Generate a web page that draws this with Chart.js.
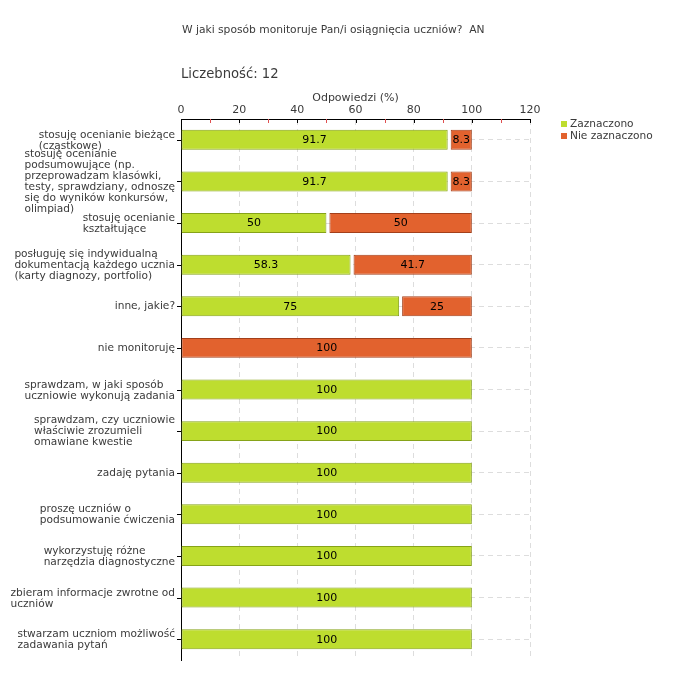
<!DOCTYPE html>
<html><head><meta charset="utf-8">
<script src="https://cdn.jsdelivr.net/npm/chart.js@4/dist/chart.umd.min.js"></script>
<style>html,body{margin:0;padding:0;background:#fff}</style>
</head><body>
<canvas id="c" width="680" height="680"></canvas>
<script>
const titleText = "W jaki sposób monitoruje Pan/i osiągnięcia uczniów?  AN";
const countText = "Liczebność: 12";
const axisTitle = "Odpowiedzi (%)";
const seriesNames = ["Zaznaczono", "Nie zaznaczono"];
const categories = [
  ["stosuję ocenianie bieżące", "(cząstkowe)"],
  ["stosuję ocenianie", "podsumowujące (np.", "przeprowadzam klasówki,", "testy, sprawdziany, odnoszę", "się do wyników konkursów,", "olimpiad)"],
  ["stosuję ocenianie", "kształtujące"],
  ["posługuję się indywidualną", "dokumentacją każdego ucznia", "(karty diagnozy, portfolio)"],
  ["inne, jakie?"],
  ["nie monitoruję"],
  ["sprawdzam, w jaki sposób", "uczniowie wykonują zadania"],
  ["sprawdzam, czy uczniowie", "właściwie zrozumieli", "omawiane kwestie"],
  ["zadaję pytania"],
  ["proszę uczniów o", "podsumowanie ćwiczenia"],
  ["wykorzystuję różne", "narzędzia diagnostyczne"],
  ["zbieram informacje zwrotne od", "uczniów"],
  ["stwarzam uczniom możliwość", "zadawania pytań"]
];
const zaznaczono = [91.7, 91.7, 50, 58.3, 75, 0, 100, 100, 100, 100, 100, 100, 100];
const nieZaznaczono = [8.3, 8.3, 50, 41.7, 25, 100, 0, 0, 0, 0, 0, 0, 0];
const xMin = 0, xMax = 120, xStep = 20, xMinorStep = 10;

const FONT = "'DejaVu Sans', Verdana, sans-serif";
const TXT = "#3a3a3a";
const GREEN = "#bedd2f", GREEN_B = "#86a318";
const ORANGE = "#e2622e", ORANGE_B = "#a33f1a";

const gapPlugin = {
  id: 'gap',
  beforeDatasetDraw(chart, args) {
    if (args.index !== 1) return;
    const left = chart.chartArea.left;
    args.meta.data.forEach(el => {
      el._origBase = el.base;
      if (el.base > left + 2 && el.x - el.base > 4) el.base = el.base + 3;
    });
  },
  afterDatasetDraw(chart, args) {
    if (args.index !== 1) return;
    args.meta.data.forEach(el => { el.base = el._origBase; });
  }
};

const decorPlugin = {
  id: 'decor',
  afterDraw(chart) {
    const ctx = chart.ctx, ca = chart.chartArea;
    const xs = chart.scales.x, ys = chart.scales.y;
    ctx.save();
    ctx.fillStyle = TXT;
    ctx.textBaseline = 'middle';
    ctx.textAlign = 'left';
    ctx.font = "10.7px " + FONT;
    ctx.fillText(titleText, ca.left + 1, 30);
    ctx.font = "13.2px " + FONT;
    ctx.fillText(countText, ca.left, 75);
    for (let v = xMin; v <= xMax; v += xMinorStep) {
      const px = Math.round(xs.getPixelForValue(v)) + 0.5;
      ctx.beginPath();
      ctx.strokeStyle = (v % xStep === 0) ? '#000' : '#e05050';
      ctx.lineWidth = 1;
      ctx.moveTo(px, ca.top);
      ctx.lineTo(px, ca.top + 4);
      ctx.stroke();
    }
    ctx.font = "10.6px " + FONT;
    const lh = 11;
    categories.forEach((lines, i) => {
      const py = Math.round(ys.getPixelForValue(i)) + 0.5;
      ctx.beginPath();
      ctx.strokeStyle = '#000';
      ctx.moveTo(ca.left - 4, py);
      ctx.lineTo(ca.left, py);
      ctx.stroke();
      let w = 0;
      lines.forEach(l => { w = Math.max(w, ctx.measureText(l).width); });
      const x0 = ca.left - 6 - w;
      const y0 = py - (lines.length - 1) * lh / 2;
      ctx.fillStyle = TXT;
      ctx.textAlign = 'left';
      lines.forEach((l, k) => ctx.fillText(l, x0, y0 + k * lh));
    });
    ctx.font = "10.6px " + FONT;
    const items = [[seriesNames[0], GREEN], [seriesNames[1], ORANGE]];
    items.forEach((it, k) => {
      const ly = 124 + k * 12;
      ctx.fillStyle = it[1];
      ctx.fillRect(561, ly - 3, 6, 6);
      ctx.fillStyle = TXT;
      ctx.fillText(it[0], 570, ly);
    });
    ctx.restore();
  },
  afterDatasetsDraw(chart) {
    const ctx = chart.ctx;
    ctx.save();
    ctx.font = "11px " + FONT;
    ctx.fillStyle = '#000';
    ctx.textAlign = 'center';
    ctx.textBaseline = 'middle';
    chart.data.datasets.forEach((ds, di) => {
      const meta = chart.getDatasetMeta(di);
      meta.data.forEach((el, i) => {
        const v = ds.data[i];
        if (!v) return;
        let base = el.base;
        if (di === 1 && el.base > chart.chartArea.left + 2 && el.x - el.base > 4) base += 3;
        ctx.fillText(String(v), (el.x + base) / 2, el.y + 0.5);
      });
    });
    ctx.restore();
  }
};

new Chart(document.getElementById('c'), {
  type: 'bar',
  data: {
    labels: categories,
    datasets: [
      { label: seriesNames[0], data: zaznaczono, backgroundColor: GREEN, borderColor: GREEN_B, borderWidth: 1, borderSkipped: false },
      { label: seriesNames[1], data: nieZaznaczono, backgroundColor: ORANGE, borderColor: ORANGE_B, borderWidth: 1, borderSkipped: false }
    ]
  },
  options: {
    indexAxis: 'y',
    responsive: false,
    animation: false,
    layout: { padding: { top: 91, left: 0, right: 150, bottom: 20 } },
    datasets: { bar: { barPercentage: 0.48, categoryPercentage: 1 } },
    plugins: { legend: { display: false }, tooltip: { enabled: false } },
    scales: {
      x: {
        position: 'top', stacked: true, min: xMin, max: xMax,
        ticks: { stepSize: xStep, padding: 2, color: TXT, font: { family: FONT, size: 11 } },
        grid: { color: '#dddddd', drawTicks: false },
        border: { display: true, color: '#000', width: 1, dash: [5, 4] },
        title: { display: true, text: axisTitle, color: TXT, font: { family: FONT, size: 11 }, padding: { top: 1, bottom: 0 } },
        afterFit(s) { s.height = 28; }
      },
      y: {
        stacked: true, offset: true,
        ticks: { display: false },
        grid: { color: '#dddddd', offset: false, drawTicks: false },
        border: { display: true, color: '#000', width: 1, dash: [5, 4] },
        afterFit(s) { s.width = 181; }
      }
    }
  },
  plugins: [gapPlugin, decorPlugin]
});
</script>
</body></html>
